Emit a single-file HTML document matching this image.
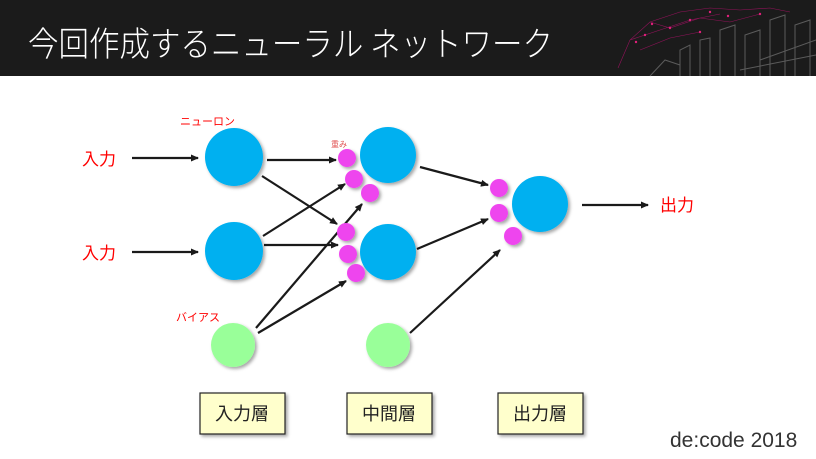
<!DOCTYPE html>
<html><head><meta charset="utf-8"><style>
body{margin:0;width:816px;height:459px;overflow:hidden;background:#fff;font-family:"Liberation Sans","Noto Sans CJK JP",sans-serif}
</style></head><body>
<svg width="816" height="459" viewBox="0 0 816 459" xmlns="http://www.w3.org/2000/svg" style="position:absolute;left:0;top:0">
<defs>
<marker id="a" markerWidth="8" markerHeight="8" refX="7" refY="4" orient="auto" markerUnits="userSpaceOnUse"><path d="M0,0.5 L8,4 L0,7.5 z" fill="#1a1a1a"/></marker>
<filter id="s" x="-30%" y="-30%" width="160%" height="160%"><feDropShadow dx="2" dy="2" stdDeviation="1.5" flood-color="#000" flood-opacity="0.35"/></filter>
</defs>
<rect x="0" y="0" width="816" height="76" fill="#1b1b1b"/>
<g stroke="#b0106a" stroke-width="0.6" fill="none" opacity="0.8">
<path d="M618 68 L630 40 L650 22 L680 12 L710 8 L740 10 L770 8 L790 12 M630 40 L660 30 L690 20 L720 14 M640 50 L670 38 L700 32 M650 22 L670 28 L700 18 L730 22 L760 14"/>
</g>
<g fill="#e0207a">
<circle cx="636" cy="42" r="1.2"/><circle cx="652" cy="24" r="1.2"/><circle cx="670" cy="28" r="1.2"/><circle cx="690" cy="20" r="1.2"/><circle cx="710" cy="12" r="1.2"/><circle cx="728" cy="16" r="1.2"/><circle cx="760" cy="14" r="1.2"/><circle cx="645" cy="35" r="1.2"/><circle cx="700" cy="32" r="1.2"/>
</g>
<g stroke="#777" stroke-width="1" fill="none" opacity="0.7">
<path d="M680 76 L680 50 L690 45 L690 76 M700 76 L700 40 L710 38 L710 76 M720 76 L720 30 L735 25 L735 76 M745 76 L745 35 L760 30 L760 76 M770 76 L770 20 L785 15 L785 76 M795 76 L795 25 L810 20 L810 76"/>
<path d="M650 76 L665 60 L680 65 M760 60 L816 40 M740 70 L816 55"/>
</g>
<text x="28" y="56" fill="#fff" font-size="34" textLength="525" lengthAdjust="spacingAndGlyphs" font-family="'Noto Sans CJK JP',sans-serif" font-weight="300">今回作成するニューラル ネットワーク</text>

<g stroke="#1a1a1a" stroke-width="2.2" marker-end="url(#a)">
<line x1="132" y1="158" x2="198" y2="158"/>
<line x1="132" y1="252" x2="198" y2="252"/>
<line x1="267" y1="160" x2="336" y2="160"/>
<line x1="262" y1="176" x2="337" y2="224"/>
<line x1="263" y1="236" x2="345" y2="184"/>
<line x1="264" y1="245" x2="338" y2="245"/>
<line x1="256" y1="328" x2="362" y2="204"/>
<line x1="258" y1="333" x2="346" y2="281"/>
<line x1="420" y1="167" x2="488" y2="185"/>
<line x1="417" y1="249" x2="488" y2="219"/>
<line x1="410" y1="333" x2="500" y2="250"/>
<line x1="582" y1="205" x2="648" y2="205"/>
</g>

<g filter="url(#s)">
<circle cx="234" cy="157" r="29" fill="#00b0f0"/>
<circle cx="234" cy="251" r="29" fill="#00b0f0"/>
<circle cx="388" cy="155" r="28" fill="#00b0f0"/>
<circle cx="388" cy="252" r="28" fill="#00b0f0"/>
<circle cx="540" cy="204" r="28" fill="#00b0f0"/>
<circle cx="233" cy="345" r="22" fill="#99ff99"/>
<circle cx="388" cy="345" r="22" fill="#99ff99"/>
<g fill="#ee44ee">
<circle cx="347" cy="158" r="9"/><circle cx="354" cy="179" r="9"/><circle cx="370" cy="193" r="9"/>
<circle cx="346" cy="232" r="9"/><circle cx="348" cy="254" r="9"/><circle cx="356" cy="273" r="9"/>
<circle cx="499" cy="188" r="9"/><circle cx="499" cy="213" r="9"/><circle cx="513" cy="236" r="9"/>
</g>
<g fill="#ffffcc" stroke="#222" stroke-width="1.2">
<rect x="200" y="393" width="85" height="41"/>
<rect x="347" y="393" width="85" height="41"/>
<rect x="498" y="393" width="85" height="41"/>
</g>
</g>
<g font-size="18" fill="#222" text-anchor="middle">
<text x="242" y="420">入力層</text>
<text x="389" y="420">中間層</text>
<text x="540" y="420">出力層</text>
</g>
<g fill="#ff0000">
<text x="82" y="165" font-size="17">入力</text>
<text x="82" y="259" font-size="17">入力</text>
<text x="660" y="211" font-size="17">出力</text>
<text x="180" y="125" font-size="11">ニューロン</text>
<text x="331" y="147" font-size="8" fill="#e05050">重み</text>
<text x="176" y="321" font-size="11">バイアス</text>
</g>
<text x="670" y="447" font-size="21" fill="#333">de:code 2018</text>
</svg>
</body></html>
